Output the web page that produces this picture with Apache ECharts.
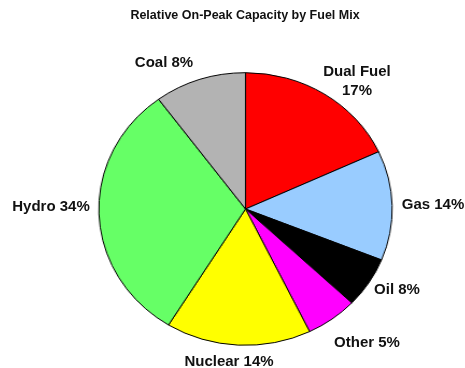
<!DOCTYPE html>
<html>
<head>
<meta charset="utf-8">
<script src="https://cdn.jsdelivr.net/npm/echarts@6/dist/echarts.min.js"></script>
<style>
html,body{margin:0;padding:0;background:#fff;}
#wrap{position:relative;width:465px;height:368px;overflow:hidden;}
#pie{position:absolute;left:0;top:0;width:465px;height:368px;transform:scaleX(1.076);transform-origin:245.5px 209px;}
#txt{position:absolute;left:0;top:0;width:465px;height:368px;pointer-events:none;}
</style>
</head>
<body>
<div id="wrap"><div id="pie"></div><div id="txt"></div></div>
<script>
// Data (clockwise from 12 o'clock)
const categories = ['Dual Fuel', 'Gas', 'Oil', 'Other', 'Nuclear', 'Hydro', 'Coal'];
const sliceShares = [18.1, 13.0, 6.0, 5.7, 16.0, 31.1, 10.1];
const labelTexts = ['Dual Fuel\n17%', 'Gas 14%', 'Oil 8%', 'Other 5%', 'Nuclear 14%', 'Hydro 34%', 'Coal 8%'];
const colors = ['#ff0000', '#99ccff', '#000000', '#ff00ff', '#ffff00', '#66ff66', '#b3b3b3'];
const titleText = 'Relative On-Peak Capacity by Fuel Mix';

// Label anchor positions (text placement only)
const labelPos = [[357, 81], [433, 205], [397, 290], [367, 343], [229, 362], [51, 207], [164, 63]];

const pie = echarts.init(document.getElementById('pie'), null, {renderer: 'canvas'});
pie.setOption({
  animation: false,
  series: [{
    type: 'pie',
    center: [245.5, 209],
    radius: 136.3,
    startAngle: 90,
    clockwise: true,
    label: {show: false},
    labelLine: {show: false},
    emphasis: {disabled: true},
    itemStyle: {borderColor: '#000', borderWidth: 1},
    data: categories.map((c, i) => ({name: c, value: sliceShares[i], itemStyle: {color: colors[i]}}))
  }]
});

const txt = echarts.init(document.getElementById('txt'), null, {renderer: 'canvas'});
const font = 'Liberation Sans, Arial, sans-serif';
const graphics = [{
  type: 'text', x: 245, y: 16,
  style: {text: titleText, fill: '#111', font: 'bold 12.5px ' + font, textAlign: 'center', textVerticalAlign: 'middle'}
}];
labelTexts.forEach((t, i) => {
  graphics.push({
    type: 'text', x: labelPos[i][0], y: labelPos[i][1],
    style: {text: t, fill: '#111', font: 'bold 15px ' + font, textAlign: 'center', textVerticalAlign: 'middle', lineHeight: 19}
  });
});
txt.setOption({animation: false, graphic: graphics});
</script>
</body>
</html>
